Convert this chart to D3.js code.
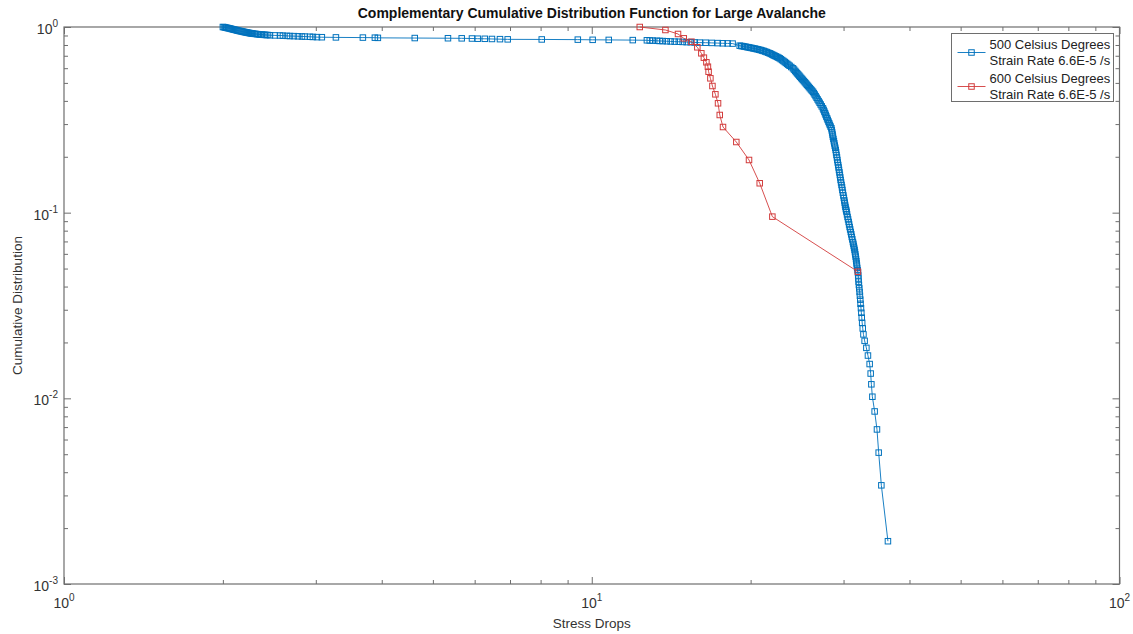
<!DOCTYPE html>
<html>
<head>
<meta charset="utf-8">
<script src="https://cdn.jsdelivr.net/npm/d3@7"></script>
<style>
body { margin: 0; background: #fff; }
svg text { font-family: "Liberation Sans", Arial, sans-serif; }
</style>
</head>
<body>
<script>
// labels
var chartTitle = "Complementary Cumulative Distribution Function for Large Avalanche";
var xLabel = "Stress Drops";
var yLabel = "Cumulative Distribution";
var seriesNames = [
  ["500 Celsius Degrees", "Strain Rate 6.6E-5 /s"],
  ["600 Celsius Degrees", "Strain Rate 6.6E-5 /s"]
];
var xExponents = [0, 1, 2];
var yExponents = [-3, -2, -1, 0];

// 500 C series [stress drop, ccdf]
var drops500 = [
  [2.00,1.000],[2.02,0.995],[2.04,0.988],[2.06,0.982],[2.08,0.975],[2.10,0.968],[2.12,0.962],
  [2.14,0.955],[2.16,0.950],[2.18,0.944],[2.20,0.939],[2.22,0.934],[2.24,0.929],[2.26,0.925],
  [2.28,0.921],[2.31,0.917],[2.34,0.913],[2.37,0.910],[2.40,0.907],[2.43,0.905],
  [2.456,0.903],[2.51,0.901],[2.566,0.900],[2.599,0.898],[2.645,0.896],[2.68,0.894],[2.727,0.893],
  [2.775,0.891],[2.824,0.889],[2.86,0.888],[2.924,0.886],[2.962,0.884],[3.015,0.882],[3.08,0.881],
  [3.275,0.879],[3.684,0.877],[3.882,0.876],[3.933,0.874],[4.62,0.872],[5.34,0.870],[5.67,0.869],
  [5.93,0.867],[6.08,0.865],[6.27,0.864],[6.47,0.862],[6.70,0.860],[6.93,0.858],[8.04,0.857],
  [9.41,0.855],[10.04,0.853],[10.77,0.852],[11.96,0.850],[12.72,0.848],[12.88,0.846],[13.05,0.845],
  [13.28,0.843],[13.45,0.841],[13.63,0.840],[13.87,0.838],[14.11,0.836],[14.36,0.834],[14.62,0.833],
  [14.87,0.831],[15.13,0.829],[15.40,0.828],[15.67,0.826],[16.02,0.824],[16.44,0.823],[16.88,0.821],
  [17.33,0.819],[17.71,0.817],[18.09,0.816],[18.49,0.814],
  [19.07,0.7930],[19.32,0.7881],[19.57,0.7823],[19.83,0.7765],[20.09,0.7708],[20.35,0.7651],
  [20.62,0.7585],[20.90,0.7510],[21.17,0.7427],[21.45,0.7326],[21.73,0.7218],
  [21.97,0.7111],[22.21,0.6998],[22.46,0.6895],[22.70,0.6785],[22.95,0.6635],[23.21,0.6480],
  [23.46,0.6329],[23.71,0.6182],[24.06,0.5991],
  [24.29,0.5801],[24.50,0.5630],[24.72,0.5472],[24.93,0.5318],[25.13,0.5182],[25.35,0.5036],
  [25.57,0.4889],[25.79,0.4751],[26.02,0.4612],[26.25,0.4482],
  [26.45,0.4329],[26.68,0.4156],[26.91,0.3990],[27.15,0.3825],[27.42,0.3648],
  [27.59,0.3502],[27.75,0.3362],[27.92,0.3223],[28.09,0.3094],[28.26,0.2970],[28.45,0.2847],
  [28.55,0.2703],[28.64,0.2563],[28.76,0.2426],[28.87,0.2297],[28.99,0.2176],
  [29.09,0.2045],[29.20,0.1922],[29.31,0.1806],[29.41,0.1698],[29.52,0.1596],[29.62,0.1500],
  [29.74,0.1410],[29.85,0.1325],[29.98,0.1238],[30.10,0.1163],[30.20,0.1100],[30.31,0.1047],[30.40,0.1009],
  [30.53,0.0948],[30.68,0.0891],[30.81,0.0837],[30.96,0.0787],[31.10,0.0740],[31.25,0.0695],
  [31.37,0.0662],[31.48,0.0630],
  [31.58,0.0596],[31.68,0.0563],[31.76,0.0533],[31.84,0.0504],
  [31.95,0.0476],[31.98,0.0459],[32.01,0.0442],[32.04,0.0425],[32.08,0.0408],[32.13,0.0391],
  [32.18,0.0374],[32.22,0.0357],[32.27,0.0340],[32.31,0.0323],[32.37,0.0306],[32.42,0.0289],
  [32.48,0.0272],[32.54,0.0255],[32.62,0.0238],[32.72,0.0221],[32.89,0.0204],[33.14,0.0187],
  [33.37,0.0170],[33.62,0.0153],[33.77,0.0136],[33.87,0.0119],[34.02,0.0102],[34.36,0.0085],
  [34.71,0.0068],[34.97,0.0051],[35.38,0.0034],[36.41,0.0017]
];

// extra readings inside the thick parts of the 500 C band (start and knee)
var band500 = [
  [2.01,0.998],[2.03,0.991],[2.05,0.985],[2.07,0.978],[2.09,0.971],[2.11,0.965],[2.13,0.958],
  [2.15,0.952],[2.17,0.947],[2.19,0.941],[2.21,0.936],[2.23,0.931],[2.25,0.927],[2.27,0.923],
  [2.295,0.919],[2.325,0.915],[2.355,0.911],[2.385,0.908],[2.415,0.906],
  [19.20,0.7905],[19.45,0.7852],[19.70,0.7794],[19.96,0.7737],[20.22,0.7680],[20.48,0.7618],
  [20.76,0.7548],[21.03,0.7469],[21.31,0.7377],[21.59,0.7272],[21.85,0.7165],[22.09,0.7055],
  [22.33,0.6947],[22.58,0.6840],[22.82,0.6710],[23.08,0.6558],[23.33,0.6405],[23.58,0.6256],
  [23.88,0.6087],[24.17,0.5896],[24.39,0.5716],[24.61,0.5551],[24.82,0.5395],[25.03,0.5250],
  [25.24,0.5109],[25.46,0.4963],[25.68,0.4820],[25.90,0.4682],[26.13,0.4547],[26.35,0.4406],
  [26.56,0.4243],[26.79,0.4073],[27.03,0.3908],[27.28,0.3737],[27.50,0.3575],[27.67,0.3432],
  [27.83,0.3293],[28.00,0.3159],[28.17,0.3032],[28.35,0.2909],[28.50,0.2775],[28.60,0.2633],
  [28.70,0.2495],[28.81,0.2362],[28.93,0.2237],[29.04,0.2111],[29.15,0.1984],[29.25,0.1864],
  [29.36,0.1752],[29.47,0.1647],[29.57,0.1548],[29.68,0.1455],[29.80,0.1368],[29.91,0.1282],
  [30.04,0.1201],[30.15,0.1132],[30.25,0.1074],[30.35,0.1028],[30.46,0.0979],[30.60,0.0920],
  [30.74,0.0864],[30.88,0.0812],[31.03,0.0764],[31.17,0.0718],[31.31,0.0679],[31.42,0.0646],
  [31.53,0.0613],[31.63,0.0580],[31.72,0.0548],[31.80,0.0519],[31.90,0.0490]
];

// 600 C series
var drops600 = [
  [12.33,1.000],[13.79,0.9635],[14.57,0.917],[14.94,0.869],[15.45,0.8333],[15.85,0.7775],
  [16.13,0.7218],[16.31,0.6835],[16.49,0.6455],[16.60,0.6111],[16.65,0.5743],[16.78,0.5292],
  [16.93,0.4811],[17.15,0.4340],[17.35,0.3882],[17.48,0.3358],[17.73,0.2893],[18.79,0.2402],
  [19.86,0.1922],[20.81,0.1440],[21.99,0.0952],[31.94,0.0481]
];

var all500 = drops500.concat(band500).sort(function(a, b) { return a[0] - b[0]; });

var seriesColors = ["#0072BD", "#d23b3b"];

var margin = {top: 27, right: 13.5, bottom: 50, left: 64},
    width = 1133 - margin.left - margin.right,
    height = 634 - margin.top - margin.bottom;

var x = d3.scaleLog().domain([1, 100]).range([0, width]);
var y = d3.scaleLog().domain([0.001, 1]).range([height, 0]);

var svg = d3.select("body").append("svg")
    .attr("width", 1133)
    .attr("height", 634)
  .append("g")
    .attr("transform", "translate(" + margin.left + "," + margin.top + ")");

// minor tick positions
var xMinor = [], yMinor = [];
[1, 10].forEach(function(b) { for (var k = 2; k <= 9; k++) xMinor.push(b * k); });
[0.001, 0.01, 0.1].forEach(function(b) { for (var k = 2; k <= 9; k++) yMinor.push(b * k); });
var xMajor = xExponents.map(function(e) { return Math.pow(10, e); });
var yMajor = yExponents.map(function(e) { return Math.pow(10, e); });

var axisColor = "#6e6e6e";

function drawAxis(gen, tx, ty) {
  var g = svg.append("g").attr("transform", "translate(" + tx + "," + ty + ")").call(gen);
  g.select(".domain").remove();
  g.selectAll("line").attr("stroke", axisColor);
  g.selectAll("text").remove();
}

// inward ticks on all four sides
drawAxis(d3.axisBottom(x).tickValues(xMajor).tickSize(-7), 0, height);
drawAxis(d3.axisBottom(x).tickValues(xMinor).tickSize(-4), 0, height);
drawAxis(d3.axisTop(x).tickValues(xMajor).tickSize(-7), 0, 0);
drawAxis(d3.axisTop(x).tickValues(xMinor).tickSize(-4), 0, 0);
drawAxis(d3.axisLeft(y).tickValues(yMajor).tickSize(-7), 0, 0);
drawAxis(d3.axisLeft(y).tickValues(yMinor).tickSize(-4), 0, 0);
drawAxis(d3.axisRight(y).tickValues(yMajor).tickSize(-7), width, 0);
drawAxis(d3.axisRight(y).tickValues(yMinor).tickSize(-4), width, 0);

svg.append("rect")
    .attr("x", 0).attr("y", 0)
    .attr("width", width).attr("height", height)
    .attr("fill", "none")
    .attr("stroke", axisColor)
    .attr("stroke-width", 1.2);

// tick labels, 10 with superscript exponent
function powLabel(t, e) {
  t.append("tspan").text("10");
  t.append("tspan").attr("dy", -7).attr("font-size", "10px").text(e);
}

xExponents.forEach(function(e) {
  var t = svg.append("text")
    .attr("x", x(Math.pow(10, e)))
    .attr("y", height + 24)
    .attr("text-anchor", "middle")
    .attr("font-size", "14px")
    .attr("fill", "#333");
  powLabel(t, e);
});

yExponents.forEach(function(e) {
  var t = svg.append("text")
    .attr("x", -6)
    .attr("y", y(Math.pow(10, e)) + 7)
    .attr("text-anchor", "end")
    .attr("font-size", "14px")
    .attr("fill", "#333");
  powLabel(t, e);
});

// the two series
var line = d3.line()
    .x(function(d) { return x(d[0]); })
    .y(function(d) { return y(d[1]); });

[all500, drops600].forEach(function(data, i) {
  svg.append("path")
    .datum(data)
    .attr("fill", "none")
    .attr("stroke", seriesColors[i])
    .attr("stroke-width", 0.9)
    .attr("d", line);

  svg.append("g").selectAll("rect")
    .data(data)
    .enter().append("rect")
    .attr("x", function(d) { return x(d[0]) - 2.75; })
    .attr("y", function(d) { return y(d[1]) - 2.75; })
    .attr("width", 5.5)
    .attr("height", 5.5)
    .attr("fill", "none")
    .attr("stroke", seriesColors[i])
    .attr("stroke-width", 1);
});

// title and axis labels
svg.append("text")
  .attr("x", width / 2)
  .attr("y", -9)
  .attr("text-anchor", "middle")
  .attr("font-size", "14px")
  .attr("font-weight", "bold")
  .attr("fill", "#111")
  .text(chartTitle);

svg.append("text")
  .attr("x", width / 2)
  .attr("y", height + 44)
  .attr("text-anchor", "middle")
  .attr("font-size", "13.5px")
  .attr("fill", "#333")
  .text(xLabel);

svg.append("text")
  .attr("transform", "translate(" + (-42) + "," + (height / 2) + ") rotate(-90)")
  .attr("text-anchor", "middle")
  .attr("font-size", "13.5px")
  .attr("fill", "#333")
  .text(yLabel);

// legend
var lg = svg.append("g").attr("transform", "translate(" + (951.5 - margin.left) + "," + (33.5 - margin.top) + ")");
lg.append("rect")
  .attr("width", 162).attr("height", 68)
  .attr("fill", "#fff")
  .attr("stroke", axisColor);

seriesNames.forEach(function(names, i) {
  var cy = 19 + i * 34;
  lg.append("line")
    .attr("x1", 6).attr("x2", 34)
    .attr("y1", cy).attr("y2", cy)
    .attr("stroke", seriesColors[i])
    .attr("stroke-width", 0.9);
  lg.append("rect")
    .attr("x", 17.25).attr("y", cy - 2.75)
    .attr("width", 5.5).attr("height", 5.5)
    .attr("fill", "none")
    .attr("stroke", seriesColors[i])
    .attr("stroke-width", 1);
  names.forEach(function(s, j) {
    lg.append("text")
      .attr("x", 38)
      .attr("y", cy - 4 + j * 16.5)
      .attr("font-size", "13px")
      .attr("fill", "#222")
      .text(s);
  });
});
</script>
</body>
</html>
